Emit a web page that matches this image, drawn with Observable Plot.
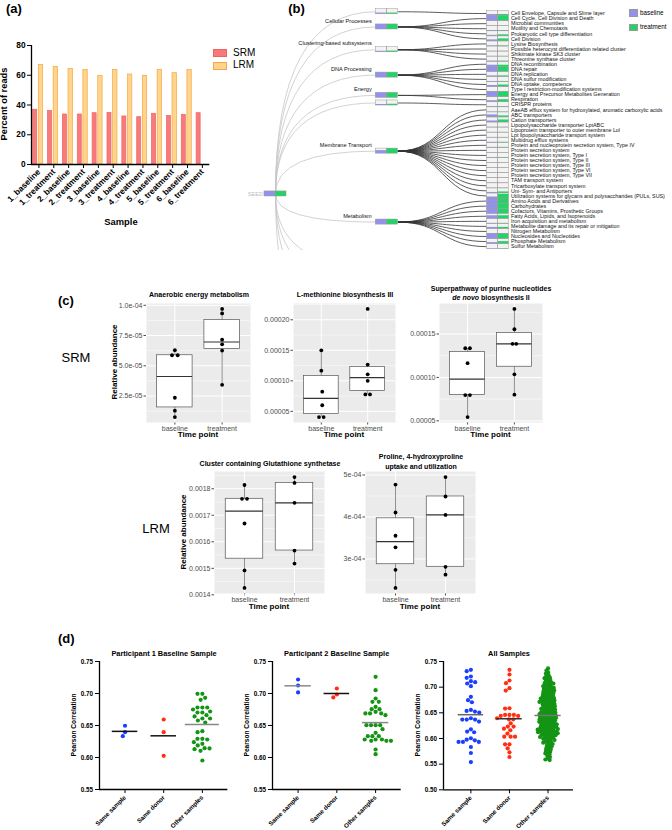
<!DOCTYPE html>
<html><head><meta charset="utf-8">
<script src="https://cdn.jsdelivr.net/npm/d3@7"></script>
<script src="https://cdn.jsdelivr.net/npm/@observablehq/plot@0.6"></script>
<style>
html,body{margin:0;padding:0;background:#fff;}
#root{position:relative;width:672px;height:830px;overflow:hidden;font-family:"Liberation Sans",Arial,sans-serif;color:#000;}
.t{position:absolute;white-space:nowrap;line-height:1;}
.sw{position:absolute;box-sizing:border-box;}
</style></head><body><div id="root"></div>
<script>
// ================= DATA =================
// (a) read composition
const samples = ["1_baseline","1_treatment","2_baseline","2_treatment","3_baseline","3_treatment","4_baseline","4_treatment","5_baseline","5_treatment","6_baseline","6_treatment"];
const srmPercent = [36.8, 35.9, 33.6, 33.6, 34.5, 34.7, 32.3, 31.8, 34.1, 32.7, 33.4, 34.5];
const lrmPercent = [67.0, 65.7, 64.3, 63.6, 59.6, 63.6, 60.5, 59.6, 63.6, 61.4, 63.6, null];
const percentTicks = [0, 20, 40, 60, 80];
const readTypes = ["SRM", "LRM"];

// (b) SEED subsystem tree
const categoryLabels = ["", "Cellular Processes", "Clustering-based subsystems", "DNA Processing", "Energy", "", "Membrane Transport", "Metabolism"];
const categoryChildCount = [1, 5, 4, 6, 2, 1, 18, 10];
const categoryBaseline = [0.25, 1, 0.2, 1, 1, 0.2, 0.6, 1];
const categoryTreatment = [0.25, 1, 0.25, 1, 1, 0.25, 1, 1];
const clippedCategoryRows = [50, 54, 60, 72];
const seedRow = 35.6;
const subsystems = [
 "Cell Envelope, Capsule and Slime layer","Cell Cycle, Cell Division and Death","Microbial communities","Motility and Chemotaxis","Prokaryotic cell type differentiation","Cell Division",
 "Lysine Biosynthesis","Possible heterocyst differentiation related cluster","Shikimate kinase SK3 cluster","Threonine synthase cluster",
 "DNA recombination","DNA repair","DNA replication","DNA sulfur modification","DNA uptake, competence","Type I restriction-modification systems",
 "Energy and Precursor Metabolites Generation","Respiration",
 "CRISPR proteins",
 "AaeAB efflux system for hydroxylated, aromatic carboxylic acids","ABC transporters","Cation transporters","Lipopolysaccharide transporter LptABC","Lipoprotein transporter to outer membrane Lol","Lpt lipopolysaccharide transport system","Multidrug efflux systems","Protein and nucleoprotein secretion system, Type IV","Protein secretion system","Protein secretion system, Type I","Protein secretion system, Type II","Protein secretion system, Type III","Protein secretion system, Type VI","Protein secretion system, Type VII","TAM transport system","Tricarboxylate transport system","Uni- Sym- and Antiporters","Utilization systems for glycans and polysaccharides (PULs, SUS)",
 "Amino Acids and Derivatives","Carbohydrates","Cofactors, Vitamins, Prosthetic Groups","Fatty Acids, Lipids, and Isoprenoids","Iron acquisition and metabolism","Metabolite damage and its repair or mitigation","Nitrogen Metabolism","Nucleosides and Nucleotides","Phosphate Metabolism","Sulfur Metabolism"];
const subsystemBaseline = [0.3,1,0,0.15,0.2,0.3, 0.1,0,0,0.1, 0.3,1,0.2,0.1,0.3,0.1, 1,0.3, 0.1, 0,0.5,0.3,0,0,0,0.1,0.1,0,0.1,0,0,0,0,0,0,0.2,0.3, 1,1,1,0.6,0.1,0.3,0.1,1,0.3,0.1];
const subsystemTreatment = [0.3,1,0,0.15,0.3,0.5, 0.1,0,0,0.1, 0.3,1,0.2,0.1,0.4,0.1, 1,0.5, 0.1, 0,0.3,0.5,0,0,0,0.1,0.1,0,0.1,0,0,0,0,0,0,0.3,0.8, 1,1,1,0.6,0.1,0.3,0.1,1,0.5,0.1];
const timePoints = ["baseline", "treatment"];

// (c) relative abundance
const anaerobicBaseline = [6.29e-5, 5.87e-5, 5.87e-5, 2.36e-5, 1.29e-5, 0.76e-5];
const anaerobicTreatment = [9.70e-5, 9.33e-5, 7.16e-5, 6.77e-5, 6.26e-5, 3.43e-5];
const anaerobicJitter = [[0, -0.06, 0.06, 0, 0, 0], [0, 0, 0, 0, 0, 0]];
const anaerobicTicks = [2.5e-5, 5e-5, 7.5e-5, 1e-4];
const anaerobicTickLabels = ["2.5e-05", "5.0e-05", "7.5e-05", "1.0e-04"];
const methionineBaseline = [1.50e-4, 1.167e-4, 0.822e-4, 0.60e-4, 0.406e-4, 0.406e-4];
const methionineTreatment = [2.178e-4, 1.267e-4, 1.106e-4, 1.00e-4, 0.778e-4, 0.778e-4];
const methionineJitter = [[0, 0, 0.02, 0.02, -0.05, 0.05], [0, 0, 0, 0, -0.05, 0.05]];
const methionineTicks = [5e-5, 1e-4, 1.5e-4, 2e-4];
const methionineTickLabels = ["0.00005", "0.00010", "0.00015", "0.00020"];
const purineBaseline = [1.336e-4, 1.336e-4, 1.164e-4, 0.797e-4, 0.797e-4, 0.543e-4];
const purineTreatment = [1.789e-4, 1.555e-4, 1.387e-4, 1.387e-4, 1.035e-4, 0.801e-4];
const purineJitter = [[-0.05, 0.05, 0, -0.05, 0.05, 0], [0, 0, -0.04, 0.04, 0, 0]];
const purineTicks = [5e-5, 1e-4, 1.5e-4];
const purineTickLabels = ["0.00005", "0.00010", "0.00015"];
const glutathioneBaseline = [1.814e-3, 1.762e-3, 1.762e-3, 1.669e-3, 1.492e-3, 1.426e-3];
const glutathioneTreatment = [1.844e-3, 1.822e-3, 1.747e-3, 1.567e-3, 1.518e-3];
const glutathioneJitter = [[0, -0.05, 0.05, 0, 0, 0], [0, 0, 0, 0, 0]];
const glutathioneTicks = [0.0014, 0.0015, 0.0016, 0.0017, 0.0018];
const glutathioneTickLabels = ["0.0014", "0.0015", "0.0016", "0.0017", "0.0018"];
const prolineBaseline = [4.772e-4, 4.106e-4, 3.553e-4, 3.276e-4, 2.740e-4, 2.309e-4];
const prolineTreatment = [4.951e-4, 4.488e-4, 4.049e-4, 2.813e-4, 2.626e-4];
const prolineJitter = [[0, 0, 0, 0, 0, 0], [0, 0, 0, 0, 0]];
const prolineTicks = [3e-4, 4e-4, 5e-4];
const prolineTickLabels = ["3e-04", "4e-04", "5e-04"];

// (d) Pearson correlations
const comparisonGroups = ["Same sample", "Same donor", "Other samples"];
const p1SameSample = [0.6496, 0.6333, 0.6396];
const p1SameDonor = [0.6594, 0.6396, 0.6026];
const p1Other = [0.6995,0.6995,0.6932,0.6901,0.6781,0.6781,0.6781,0.6750,0.6719,0.6703,0.6703,0.6661,0.6641,0.6609,0.6609,0.6578,0.6547,0.6396,0.6411,0.6281,0.6292,0.6292,0.6240,0.6214,0.6188,0.6130,0.6146,0.6104,0.6141,0.5953];
const p2SameSample = [0.7219, 0.7125, 0.7016];
const p2SameDonor = [0.7078, 0.6938, 0.6984];
const p2Other = [0.7260,0.7052,0.6922,0.6870,0.6870,0.6792,0.6755,0.6755,0.6714,0.6688,0.6688,0.6688,0.6661,0.6505,0.6505,0.6505,0.6505,0.6443,0.6385,0.6333,0.6333,0.6333,0.6281,0.6281,0.6281,0.6260,0.6260,0.6260,0.6125,0.6052];
const allSameSample = [0.7338,0.7312,0.7208,0.7182,0.7097,0.7117,0.7071,0.7019,0.6811,0.6746,0.6706,0.6557,0.6524,0.6537,0.6505,0.6394,0.6368,0.6329,0.6368,0.6368,0.6179,0.6121,0.6134,0.6004,0.5964,0.5932,0.5932,0.5932,0.5977,0.5834,0.5717,0.5541];
const allSameDonor = [0.7338,0.7247,0.7130,0.7078,0.6980,0.6934,0.6589,0.6583,0.6459,0.6459,0.6459,0.6439,0.6394,0.6439,0.6374,0.6374,0.6296,0.6231,0.6231,0.6192,0.6160,0.6095,0.6036,0.6036,0.6036,0.5886,0.5886,0.5808,0.5730,0.5639];
const allOther = [
 0.5580,0.5590,
 0.5612,0.5637,0.5662,0.5687,
 0.5708,0.5725,0.5742,0.5758,0.5775,0.5792,
 0.5808,0.5825,0.5842,0.5858,0.5875,0.5892,
 0.5906,0.5919,0.5931,0.5944,0.5956,0.5969,0.5981,0.5994,
 0.6004,0.6013,0.6021,0.6029,0.6038,0.6046,0.6054,0.6063,0.6071,0.6079,0.6088,0.6096,
 0.6103,0.6109,0.6116,0.6122,0.6128,0.6134,0.6141,0.6147,0.6153,0.6159,0.6166,0.6172,0.6178,0.6184,0.6191,0.6197,
 0.6204,0.6211,0.6218,0.6225,0.6232,0.6239,0.6246,0.6254,0.6261,0.6268,0.6275,0.6282,0.6289,0.6296,
 0.6304,0.6311,0.6318,0.6325,0.6332,0.6339,0.6346,0.6354,0.6361,0.6368,0.6375,0.6382,0.6389,0.6396,
 0.6404,0.6411,0.6418,0.6425,0.6432,0.6439,0.6446,0.6454,0.6461,0.6468,0.6475,0.6482,0.6489,0.6496,
 0.6504,0.6513,0.6521,0.6529,0.6538,0.6546,0.6554,0.6563,0.6571,0.6579,0.6588,0.6596,
 0.6604,0.6613,0.6621,0.6629,0.6638,0.6646,0.6654,0.6663,0.6671,0.6679,0.6688,0.6696,
 0.6704,0.6713,0.6721,0.6729,0.6738,0.6746,0.6754,0.6763,0.6771,0.6779,0.6788,0.6796,
 0.6805,0.6815,0.6825,0.6835,0.6845,0.6855,0.6865,0.6875,0.6885,0.6895,
 0.6905,0.6915,0.6925,0.6935,0.6945,0.6955,0.6965,0.6975,0.6985,0.6995,
 0.7006,0.7019,0.7031,0.7044,0.7056,0.7069,0.7081,0.7094,
 0.7108,0.7125,0.7142,0.7158,0.7175,0.7192,
 0.7212,0.7237,0.7262,0.7287,
 0.7325,0.7365];
const corrTicks1 = [0.55, 0.60, 0.65, 0.70, 0.75];
const corrTicksAll = [0.50, 0.55, 0.60, 0.65, 0.70, 0.75];

// ================= HELPERS =================
const root = document.getElementById("root");
const FONT = '"Liberation Sans", Arial, Helvetica, sans-serif';
const SRM_FILL = "#f87a7a", SRM_STROKE = "#ec6464";
const LRM_FILL = "#ffd48c", LRM_STROKE = "#f4a845";
const PURPLE = "#9292ee", GREEN = "#22d466";
const DOT_COLORS = ["#1a3fff", "#ff2f12", "#149414"];

function put(svg, left, top) {
  svg.style.position = "absolute"; svg.style.left = left + "px"; svg.style.top = top + "px";
  root.appendChild(svg); return svg;
}
function txt(html, x, y, o = {}) {
  const d = document.createElement("div");
  d.className = "t"; d.innerHTML = html;
  const ax = o.anchor === "start" ? "0" : o.anchor === "end" ? "-100%" : "-50%";
  d.style.left = x + "px"; d.style.top = y + "px";
  d.style.fontSize = (o.size || 8) + "px";
  d.style.fontWeight = o.bold ? "bold" : "normal";
  if (o.color) d.style.color = o.color;
  if (o.family) d.style.fontFamily = o.family;
  if (o.lh) { d.style.lineHeight = o.lh + "px"; d.style.textAlign = "center"; }
  d.style.transform = `translate(${ax},-50%)` + (o.rotate ? ` rotate(${o.rotate}deg)` : "");
  root.appendChild(d); return d;
}
function swatch(x, y, w, h, fill, stroke) {
  const d = document.createElement("div"); d.className = "sw";
  Object.assign(d.style, {left: x + "px", top: y + "px", width: w + "px", height: h + "px", background: fill, border: `0.8px solid ${stroke}`});
  root.appendChild(d);
}

// ================= (a) =================
txt("(a)", 6, 8, {size: 13, bold: true, anchor: "start"});
const aRows = samples.map((s, i) => ({i, srm: srmPercent[i], lrm: lrmPercent[i]}));
put(Plot.plot({
  width: 240, height: 215, marginLeft: 31, marginRight: 30.7, marginTop: 45, marginBottom: 51,
  style: {background: "transparent", fontFamily: FONT, fontSize: "8.3px", fontWeight: "bold", color: "#000", overflow: "visible"},
  x: {domain: [0, samples.length], ticks: d3.range(samples.length).map(i => i + 0.5), tickFormat: d => samples[Math.floor(d)], tickRotate: -45, tickSize: 4, tickPadding: 2, label: null},
  y: {domain: [0, 80], ticks: percentTicks, tickSize: 4, tickPadding: 2, label: null},
  marks: [
    Plot.rect(aRows.filter(d => d.srm != null), {x1: d => d.i + 0.114, x2: d => d.i + 0.384, y1: () => 0, y2: "srm", fill: SRM_FILL, stroke: SRM_STROKE, strokeWidth: 0.7}),
    Plot.rect(aRows.filter(d => d.lrm != null), {x1: d => d.i + 0.491, x2: d => d.i + 0.785, y1: () => 0, y2: "lrm", fill: LRM_FILL, stroke: LRM_STROKE, strokeWidth: 0.7}),
    Plot.ruleY([0], {stroke: "#000", strokeWidth: 1.3}),
    Plot.ruleX([0], {stroke: "#000", strokeWidth: 1.3})
  ]
}), 0, 0);
txt("Percent of reads", 5, 104, {size: 9.3, bold: true, rotate: -90});
txt("Sample", 121, 221.5, {size: 9.4, bold: true});
swatch(213, 48.7, 13.5, 8, SRM_FILL, SRM_STROKE);
swatch(213, 62, 13.5, 7.5, LRM_FILL, LRM_STROKE);
txt(readTypes[0], 233, 52.7, {size: 10, anchor: "start"});
txt(readTypes[1], 233, 65.4, {size: 10, anchor: "start"});

// ================= (b) =================
txt("(b)", 296.5, 7.5, {size: 13, bold: true});
const BW = 0.099;
const l2 = subsystems.map((name, i) => ({name, row: i, b: subsystemBaseline[i], t: subsystemTreatment[i], depth: 2}));
let startRow = 0;
const cats = categoryLabels.map((label, k) => {
  const rows = d3.range(startRow, startRow + categoryChildCount[k]); startRow += categoryChildCount[k];
  return {label, row: d3.mean(rows) - 0.35, children: rows, b: categoryBaseline[k], t: categoryTreatment[k], depth: 1};
});
const hiddenCats = clippedCategoryRows.map(row => ({label: "", row, children: [], b: 0.5, t: 0.5, depth: 1}));
const seedNode = {label: "SEED", row: seedRow, b: 1, t: 1, depth: 0};
const nodes = [seedNode, ...cats, ...hiddenCats, ...l2];
const seedLinks = cats.concat(hiddenCats).map(c => ({y1: seedRow, y2: c.row}));
const catLinks = cats.flatMap(c => c.children.map(r => ({y1: c.row, y2: r})));
function elbow(context) {
  let pts = [];
  return {
    areaStart() {}, areaEnd() {},
    lineStart() { pts = []; },
    point(x, y) { pts.push([+x, +y]); },
    lineEnd() {
      const [[x0, y0], [x1, y1]] = pts;
      context.moveTo(x0, y0);
      context.quadraticCurveTo(x0, y1, x1, y1);
    }
  };
}
const cellH = 0.5;
put(Plot.plot({
  width: 442, height: 250, margin: 0,
  style: {background: "transparent", fontFamily: FONT, fontSize: "5px", color: "#111", overflow: "hidden"},
  x: {domain: [0, 2], range: [45, 267.5], axis: null},
  y: {domain: [-0.5, 46.5], range: [10.5, 248.7], axis: null},
  marks: [
    Plot.link(seedLinks, {x1: () => 0, y1: "y1", x2: () => 1 - BW, y2: "y2", curve: elbow, stroke: "#c6c6c6", strokeWidth: 0.8, clip: true}),
    Plot.link(catLinks, {x1: () => 1 + BW, y1: "y1", x2: () => 2 - BW, y2: "y2", curve: "bump-x", stroke: "#333", strokeWidth: 0.8}),
    Plot.rect(nodes, {x1: d => d.depth - BW, x2: d => d.depth + BW, y1: d => d.row - cellH, y2: d => d.row + cellH, fill: "#f3f3f3", clip: true}),
    Plot.rect(nodes.filter(d => d.b > 0), {x1: d => d.depth - BW, x2: d => d.depth, y1: d => d.row + cellH - 2 * cellH * d.b, y2: d => d.row + cellH, fill: PURPLE, clip: true}),
    Plot.rect(nodes.filter(d => d.t > 0), {x1: d => d.depth, x2: d => d.depth + BW, y1: d => d.row + cellH - 2 * cellH * d.t, y2: d => d.row + cellH, fill: GREEN, clip: true}),
    Plot.rect(nodes, {x1: d => d.depth - BW, x2: d => d.depth, y1: d => d.row - cellH, y2: d => d.row + cellH, fill: "none", stroke: "#9a9a9a", strokeWidth: 0.5, clip: true}),
    Plot.rect(nodes, {x1: d => d.depth, x2: d => d.depth + BW, y1: d => d.row - cellH, y2: d => d.row + cellH, fill: "none", stroke: "#9a9a9a", strokeWidth: 0.5, clip: true}),
    Plot.text(l2, {x: () => 2 + BW, y: "row", text: "name", dx: 2, textAnchor: "start", fontSize: 5.35, fill: "#111"}),
    Plot.text(cats.filter(c => c.label), {x: () => 1 - BW, y: "row", text: "label", dx: -4, dy: -6.2, textAnchor: "end", fontSize: 5.6, fill: "#111"}),
    Plot.text([seedNode], {x: () => -BW, y: "row", text: "label", dx: -1.5, textAnchor: "end", fontSize: 5.6, fill: "#bdbdbd"})
  ]
}), 230, 0);
swatch(629, 9, 8.5, 7.5, PURPLE, "#999");
swatch(629, 23.5, 8.5, 7.5, GREEN, "#999");
txt(timePoints[0], 640, 12.8, {size: 6.3, anchor: "start"});
txt(timePoints[1], 640, 27.2, {size: 6.3, anchor: "start"});

// ================= (c) =================
txt("(c)", 58, 299.5, {size: 13, bold: true, anchor: "start"});
function ggBox(cfg) {
  const ml = 42, mr = 3, mt = 3, mb = 14;
  const {left, top, w, h, base, treat, jit, ticks, labels} = cfg;
  const all = base.concat(treat);
  const lo = d3.min(all), hi = d3.max(all), pad = (hi - lo) * 0.05;
  const dom = [lo - pad, hi + pad];
  const stats = [[1, base], [2, treat]].map(([g, vals]) => {
    const s = vals.slice().sort(d3.ascending);
    const q1 = d3.quantile(s, 0.25), med = d3.quantile(s, 0.5), q3 = d3.quantile(s, 0.75), iqr = q3 - q1;
    const ins = s.filter(v => v >= q1 - 1.5 * iqr - 1e-12 && v <= q3 + 1.5 * iqr + 1e-12);
    return {g, q1, med, q3, wlo: d3.min(ins), whi: d3.max(ins)};
  });
  const pts = base.map((v, i) => ({x: 1 + jit[0][i], v})).concat(treat.map((v, i) => ({x: 2 + jit[1][i], v})));
  const step = ticks[1] - ticks[0];
  const minor = [ticks[0] - step / 2, ...ticks.map(t => t + step / 2)].filter(v => v > dom[0] && v < dom[1]);
  const HW = 0.375;
  put(Plot.plot({
    width: w + ml + mr, height: h + mt + mb, marginLeft: ml, marginRight: mr, marginTop: mt, marginBottom: mb,
    style: {background: "transparent", fontFamily: FONT, fontSize: "7px", color: "#4d4d4d", overflow: "visible"},
    x: {domain: [0.4, 2.6], ticks: [1, 2], tickFormat: d => timePoints[d - 1], tickSize: 2.5, tickPadding: 1.5, label: null},
    y: {domain: dom, ticks, tickFormat: d => labels[ticks.findIndex(t => Math.abs(t - d) < 1e-12)], tickSize: 2.5, tickPadding: 1.5, label: null},
    marks: [
      Plot.frame({fill: "#ebebeb", stroke: null}),
      Plot.ruleY(minor, {stroke: "#fff", strokeWidth: 0.5}),
      Plot.ruleY(ticks, {stroke: "#fff", strokeWidth: 1}),
      Plot.ruleX([1, 2], {stroke: "#fff", strokeWidth: 1}),
      Plot.ruleX(stats, {x: "g", y1: "wlo", y2: "whi", stroke: "#444", strokeWidth: 0.6}),
      Plot.rect(stats, {x1: d => d.g - HW, x2: d => d.g + HW, y1: "q1", y2: "q3", fill: "#fff", stroke: "#555", strokeWidth: 0.7}),
      Plot.ruleY(stats, {y: "med", x1: d => d.g - HW, x2: d => d.g + HW, stroke: "#333", strokeWidth: 1.2}),
      Plot.dot(pts, {x: "x", y: "v", r: 1.9, fill: "#000", stroke: "none"})
    ]
  }), left - ml, top - mt);
  txt("Time point", left + w / 2, cfg.xTitleY, {size: 8, bold: true});
}
ggBox({left: 146, top: 302.5, w: 104, h: 119, base: anaerobicBaseline, treat: anaerobicTreatment, jit: anaerobicJitter, ticks: anaerobicTicks, labels: anaerobicTickLabels, xTitleY: 435.3});
ggBox({left: 293, top: 302.5, w: 102, h: 119, base: methionineBaseline, treat: methionineTreatment, jit: methionineJitter, ticks: methionineTicks, labels: methionineTickLabels, xTitleY: 435.3});
ggBox({left: 439, top: 302.5, w: 103, h: 119, base: purineBaseline, treat: purineTreatment, jit: purineJitter, ticks: purineTicks, labels: purineTickLabels, xTitleY: 435.3});
ggBox({left: 214, top: 471, w: 110, h: 122, base: glutathioneBaseline, treat: glutathioneTreatment, jit: glutathioneJitter, ticks: glutathioneTicks, labels: glutathioneTickLabels, xTitleY: 606.7});
ggBox({left: 365, top: 471, w: 110, h: 122, base: prolineBaseline, treat: prolineTreatment, jit: prolineJitter, ticks: prolineTicks, labels: prolineTickLabels, xTitleY: 606.7});
txt("Anaerobic energy metabolism", 199, 293.5, {size: 7, bold: true});
txt("L-methionine biosynthesis III", 345, 293.5, {size: 7, bold: true});
txt("Superpathway of purine nucleotides<br><i>de novo</i> biosynthesis II", 491, 293.2, {size: 7, bold: true, lh: 8.5});
txt("Cluster containing Glutathione synthetase", 270, 462.7, {size: 7, bold: true});
txt("Proline, 4-hydroxyproline<br>uptake and utilization", 421, 461.3, {size: 7, bold: true, lh: 9.3});
txt("Relative abundance", 115, 362, {size: 8, bold: true, rotate: -90});
txt("Relative abundance", 184, 532, {size: 8, bold: true, rotate: -90});
txt("SRM", 76, 357, {size: 13});
txt("LRM", 156, 527.7, {size: 13});

// ================= (d) =================
txt("(d)", 58, 637.5, {size: 13, bold: true, anchor: "start"});
function swarm(vals, pxY, D) {
  const order = vals.map((v, i) => i).sort((a, b) => vals[b] - vals[a]);
  const placed = []; const off = new Array(vals.length).fill(0);
  for (const i of order) {
    const y = vals[i] * pxY;
    const near = placed.filter(p => Math.abs(p.y - y) < D);
    const cands = [0];
    for (const p of near) { const dx = Math.sqrt(D * D - (p.y - y) ** 2); cands.push(p.x - dx, p.x + dx); }
    cands.sort((a, b) => Math.abs(a) - Math.abs(b) || a - b);
    let x = 0;
    for (const c of cands) { if (near.every(p => (p.x - c) ** 2 + (p.y - y) ** 2 >= D * D - 1e-6)) { x = c; break; } }
    placed.push({x, y}); off[i] = x;
  }
  return off;
}
function prism(cfg) {
  const ml = 30, mr = 6, mt = 6, mb = 44;
  const {left, top, right, bottom, xDomain, yDomain, yTicks, groups, lineColors, halfW, D} = cfg;
  const w = right - left, h = bottom - top;
  const pxX = w / (xDomain[1] - xDomain[0]), pxY = h / (yDomain[1] - yDomain[0]);
  const marks = [];
  groups.forEach((vals, gi) => {
    const offs = swarm(vals, pxY, D[gi]);
    const pts = vals.map((v, i) => ({x: gi + 1 + offs[i] / pxX, v}));
    marks.push(Plot.dot(pts, {x: "x", y: "v", r: 2.1, fill: DOT_COLORS[gi], stroke: "none"}));
  });
  groups.forEach((vals, gi) => {
    marks.push(Plot.ruleY([{g: gi + 1, m: d3.mean(vals)}], {y: "m", x1: d => d.g - halfW[gi], x2: d => d.g + halfW[gi], stroke: lineColors[gi], strokeWidth: 1.5}));
  });
  marks.push(Plot.ruleX([xDomain[0]], {stroke: "#000", strokeWidth: 1.3}));
  marks.push(Plot.ruleY([yDomain[0]], {stroke: "#000", strokeWidth: 1.3}));
  put(Plot.plot({
    width: w + ml + mr, height: h + mt + mb, marginLeft: ml, marginRight: mr, marginTop: mt, marginBottom: mb,
    style: {background: "transparent", fontFamily: FONT, fontSize: "6.3px", fontWeight: "bold", color: "#000", overflow: "visible"},
    x: {domain: xDomain, ticks: [1, 2, 3], tickFormat: d => comparisonGroups[d - 1], tickRotate: -45, tickSize: 4, tickPadding: 3, label: null},
    y: {domain: yDomain, ticks: yTicks, tickFormat: d => d.toFixed(2), tickSize: 4, tickPadding: 2.5, label: null},
    marks
  }), left - ml, top - mt);
}
prism({left: 99.3, top: 661.3, right: 227.7, bottom: 789.3, xDomain: [0.34, 3.66], yDomain: [0.55, 0.75], yTicks: corrTicks1,
  groups: [p1SameSample, p1SameDonor, p1Other], lineColors: ["#111", "#111", "#888"], halfW: [0.33, 0.33, 0.44], D: [4.6, 4.6, 4.9]});
prism({left: 272.3, top: 661.3, right: 401, bottom: 789.3, xDomain: [0.34, 3.66], yDomain: [0.55, 0.75], yTicks: corrTicks1,
  groups: [p2SameSample, p2SameDonor, p2Other], lineColors: ["#888", "#111", "#888"], halfW: [0.34, 0.33, 0.34], D: [4.6, 4.6, 4.6]});
prism({left: 443.3, top: 660.7, right: 573.3, bottom: 789, xDomain: [0.29, 3.66], yDomain: [0.50, 0.75], yTicks: corrTicksAll,
  groups: [allSameSample, allSameDonor, allOther], lineColors: ["#666", "#333", "#777"], halfW: [0.33, 0.33, 0.34], D: [4.4, 4.4, 2.6]});
txt("Participant 1 Baseline Sample", 164, 653.5, {size: 7.4, bold: true});
txt("Participant 2 Baseline Sample", 336.7, 653.5, {size: 7.4, bold: true});
txt("All Samples", 509, 654, {size: 7.4, bold: true});
txt("Pearson Correlation", 74, 725, {size: 6.6, bold: true, rotate: -90});
txt("Pearson Correlation", 246.7, 725, {size: 6.6, bold: true, rotate: -90});
txt("Pearson Correlation", 418, 725, {size: 6.6, bold: true, rotate: -90});
</script></body></html>
